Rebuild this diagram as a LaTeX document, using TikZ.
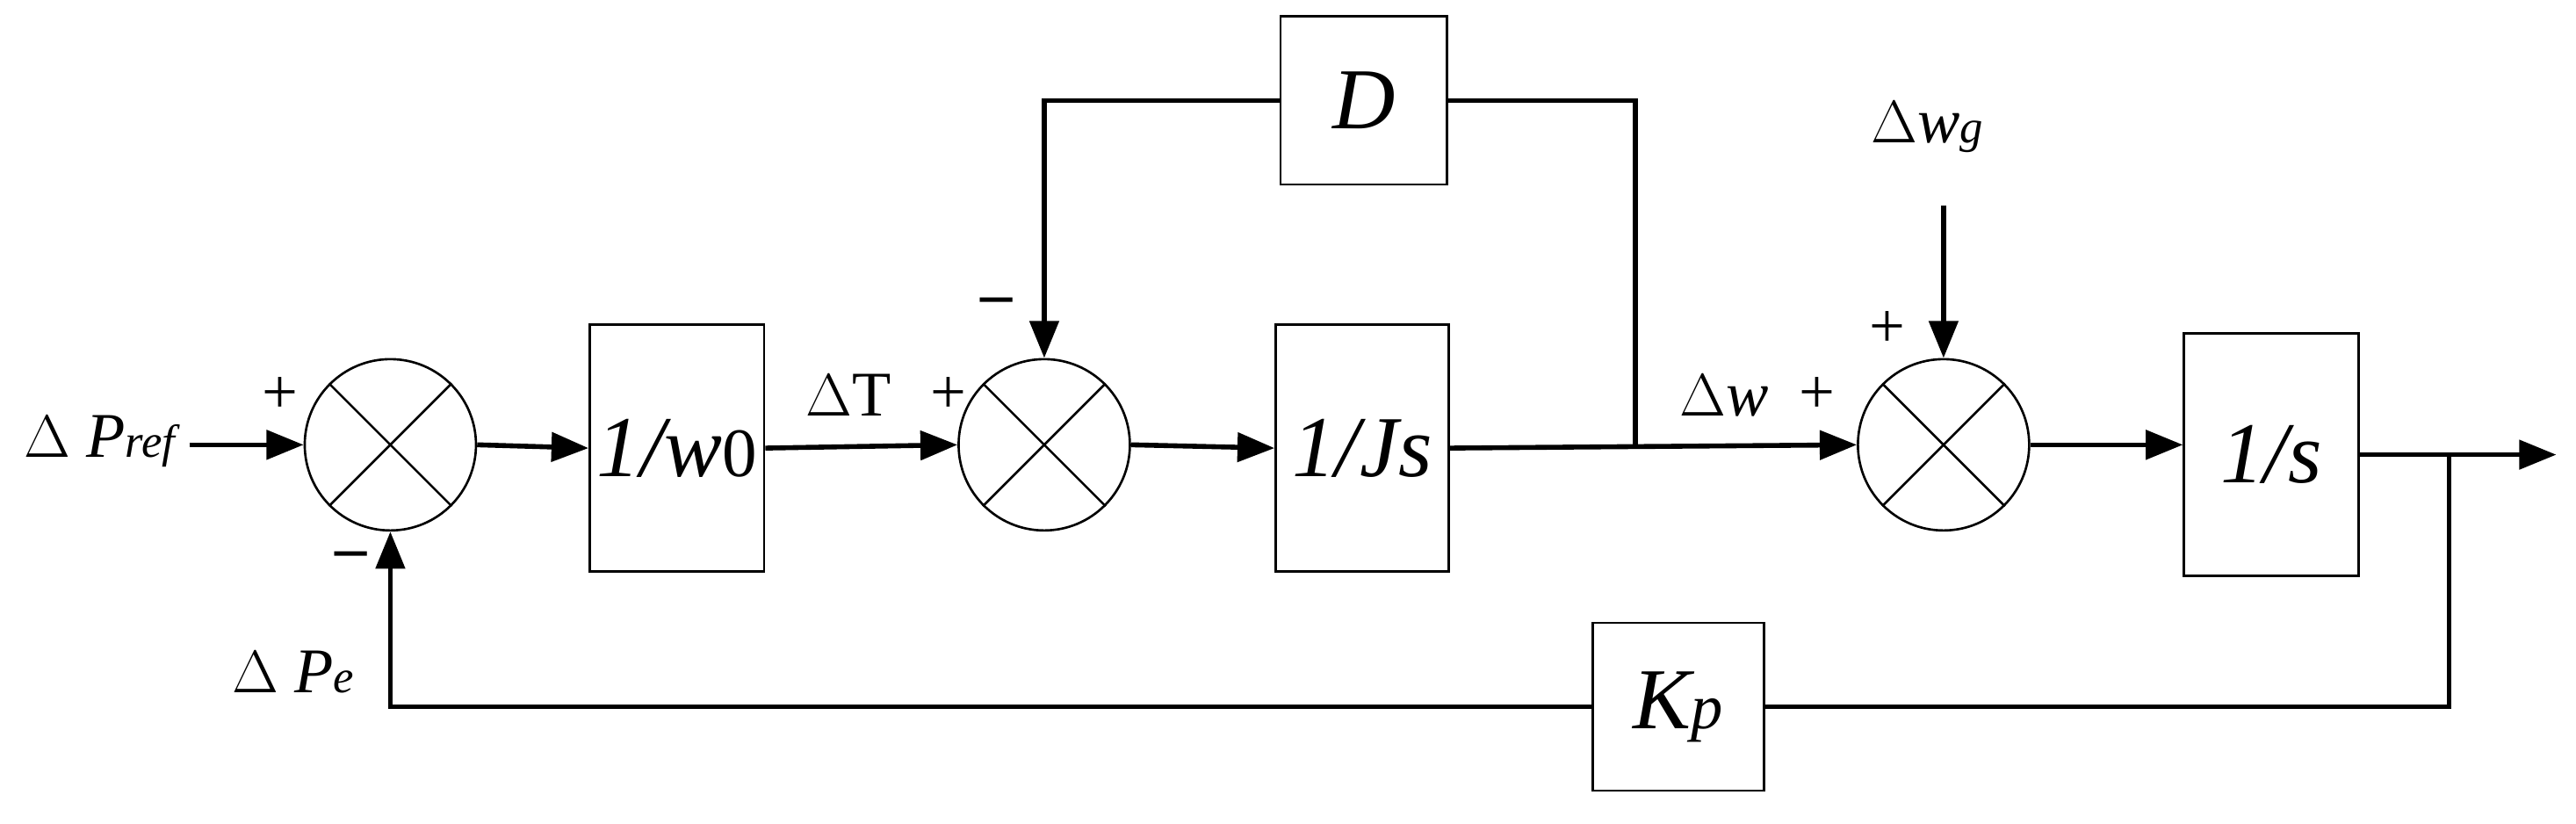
\documentclass[tikz,border=0pt]{standalone}
\usepackage{fontspec}
\setmainfont{Liberation Serif}
\usetikzlibrary{arrows.meta}
\begin{document}
\begin{tikzpicture}[x=0.02cm,y=-0.02cm,
  blk/.style={draw,line width=0.8pt,inner sep=0pt},
  sum/.style={draw,circle,line width=0.8pt,minimum size=2.08cm,inner sep=0pt},
  sig/.style={line width=1.7pt,-{Triangle[length=0.45cm,width=0.35cm]}},
  ln/.style={line width=1.7pt},
  big/.style={font=\fontsize{30}{34}\selectfont\itshape},
  lab/.style={font=\fontsize{22}{26}\selectfont}]
\useasboundingbox (0,0) rectangle (1564,500);
% blocks
\node[blk,minimum width=2.12cm,minimum height=3cm,big] (w0) at (411,272) {1/\textit{w}\textup{\fontsize{24}{26}\selectfont 0}};
\node[blk,minimum width=2.1cm,minimum height=3cm,big] (Js) at (827,272) {1/\textit{J}s};
\node[blk,minimum width=2.02cm,minimum height=2.04cm,big] (D) at (828,61) {D};
\node[blk,minimum width=2.12cm,minimum height=2.94cm,big] (s1) at (1379,276) {1/s};
\node[blk,minimum width=2.08cm,minimum height=2.04cm,big] (Kp) at (1019,429) {K\textit{\fontsize{22}{24}\selectfont p}};
% sums
\foreach \n/\x in {S1/237,S2/634,S3/1180}{
  \node[sum] (\n) at (\x,270) {};
  \draw[line width=0.8pt] (\n.45)--(\n.225) (\n.135)--(\n.315);
}
% coordinates
\coordinate (in) at (115,270);
\coordinate (bD) at (993,270);
\coordinate (tg) at (1180,125);
\coordinate (br) at (1487,276);
\coordinate (out) at (1552,276);
% signals
\draw[sig] (in) -- (S1.west);
\draw[sig] (S1.east) -- (w0.west);
\draw[sig] (w0.east) -- (S2.west);
\draw[sig] (S2.east) -- (Js.west);
\draw[sig] (Js.east) -- (S3.west);
\draw[sig] (S3.east) -- (s1.west |- S3.east);
\draw[sig] (s1.east |- br) -- (out);
\draw[sig] (tg) -- (S3.north);
\draw[ln] (bD) -- (993,61) -- (D.east);
\draw[sig] (D.west) -- (634,61) -- (S2.north);
\draw[ln] (br) -- (1487,429) -- (Kp.east);
\draw[sig] (Kp.west) -- (237,429) -- (S1.south);
% labels
\node[lab] (lPref) at (62,268) {$\Delta$ \textit{P}\textit{\fontsize{16}{18}\selectfont ref}};
\node[lab] (lp1) at (170,240) {+};
\node[lab] (lm1) at (213,340) {\textbf{--}};
\node[lab] (lPe) at (178,408) {$\Delta$ \textit{P}\textit{\fontsize{16}{18}\selectfont e}};
\node[lab] (lT) at (515,240) {$\Delta$T};
\node[lab] (lp2) at (576,240) {+};
\node[lab] (lm2) at (605,186) {\textbf{--}};
\node[lab] (lw) at (1047,240) {$\Delta$\textit{w}};
\node[lab] (lp3) at (1103,240) {+};
\node[lab] (lp4) at (1146,200) {+};
\node[lab] (lwg) at (1170,77) {$\Delta$\textit{w}\textit{\fontsize{16}{18}\selectfont g}};
\end{tikzpicture}
\end{document}
